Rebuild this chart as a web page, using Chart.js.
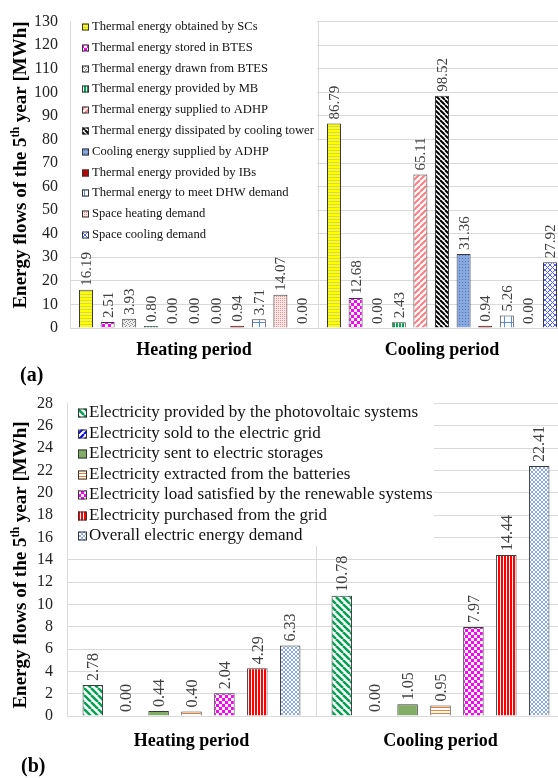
<!DOCTYPE html>
<html>
<head>
<meta charset="utf-8">
<script src="https://cdn.jsdelivr.net/npm/chart.js@4.4.1/dist/chart.umd.min.js"></script>
<style>
  html, body { margin: 0; padding: 0; background: #fff; overflow: hidden; }
  body { width: 558px; height: 778px; position: relative; }
  .wrap { position: absolute; left: 0; }
  .wrap canvas { display: block; }
  .tag { position: absolute; font: bold 20px "Liberation Serif", "Times New Roman", serif; color: #000; }
</style>
</head>
<body>
<div class="wrap" style="top:0"><canvas id="chartA" width="566" height="362"></canvas></div>
<div class="wrap" style="top:380px"><canvas id="chartB" width="566" height="380"></canvas></div>
<div class="tag" style="left:20px; top:363px">(a)</div>
<div class="tag" style="left:21px; top:754px">(b)</div>
<script>
// --- Data ---
const categories = ['Heating period', 'Cooling period'];
const yTitleParts = ['Energy flows of the 5', 'th', ' year [MWh]'];

const thermalNames = [
  'Thermal energy obtained by SCs',
  'Thermal energy stored in BTES',
  'Thermal energy drawn from BTES',
  'Thermal energy provided by MB',
  'Thermal energy supplied to ADHP',
  'Thermal energy dissipated by cooling tower',
  'Cooling energy supplied by ADHP',
  'Thermal energy provided by IBs',
  'Thermal energy to meet DHW demand',
  'Space heating demand',
  'Space cooling demand'
];
const thermalHeating = [16.19, 2.51, 3.93, 0.80, 0.00, 0.00, 0.00, 0.94, 3.71, 14.07, 0.00];
const thermalCooling = [86.79, 12.68, 0.00, 2.43, 65.11, 98.52, 31.36, 0.94, 5.26, 0.00, 27.92];
const thermalTicks = [0, 10, 20, 30, 40, 50, 60, 70, 80, 90, 100, 110, 120, 130];

const electricNames = [
  'Electricity provided by the photovoltaic systems',
  'Electricity sold to the electric grid',
  'Electricity sent to electric storages',
  'Electricity extracted from the batteries',
  'Electricity load satisfied by the renewable systems',
  'Electricity purchased from the grid',
  'Overall electric energy demand'
];
const electricHeating = [2.78, 0.00, 0.44, 0.40, 2.04, 4.29, 6.33];
const electricCooling = [10.78, 0.00, 1.05, 0.95, 7.97, 14.44, 22.41];
const electricTicks = [0, 2, 4, 6, 8, 10, 12, 14, 16, 18, 20, 22, 24, 26, 28];

// --- Patterns ---
const pctx = document.createElement('canvas').getContext('2d');
function tile(w, h, bg, paint) {
  const c = document.createElement('canvas');
  c.width = w; c.height = h;
  const g = c.getContext('2d');
  g.fillStyle = bg;
  g.fillRect(0, 0, w, h);
  if (paint) paint(g);
  return pctx.createPattern(c, 'repeat');
}
function diag(size, bg, color, lw, dir) {
  return tile(size, size, bg, g => {
    g.strokeStyle = color; g.lineWidth = lw;
    g.beginPath();
    for (let k = -1; k <= 1; k++) {
      if (dir > 0) { g.moveTo(k * size, size); g.lineTo(k * size + size, 0); }
      else { g.moveTo(k * size, 0); g.lineTo(k * size + size, size); }
    }
    g.stroke();
  });
}
function lattice(size, bg, color, lw) {
  return tile(size, size, bg, g => {
    g.strokeStyle = color; g.lineWidth = lw;
    g.beginPath();
    for (let k = -1; k <= 1; k++) {
      g.moveTo(k * size, size); g.lineTo(k * size + size, 0);
      g.moveTo(k * size, 0); g.lineTo(k * size + size, size);
    }
    g.stroke();
  });
}
function checks(size, bg, color) {
  return tile(size * 2, size * 2, bg, g => {
    g.fillStyle = color;
    g.fillRect(0, 0, size, size);
    g.fillRect(size, size, size, size);
  });
}
function hLines(h, bg, color) {
  return tile(4, h, bg, g => { g.fillStyle = color; g.fillRect(0, 0, 4, 1); });
}
function vLines(w, lw, bg, color) {
  return tile(w, 4, bg, g => { g.fillStyle = color; g.fillRect(0, 0, lw, 4); });
}

const thermalFills = [
  hLines(3, '#FFFF00', '#D6D65A'),
  checks(3, '#FFFFFF', '#FF00FF'),
  tile(4, 4, '#EDEDED', g => { g.fillStyle = '#8C8C8C'; g.fillRect(0, 0, 1, 1); g.fillRect(2, 1, 1, 1); g.fillRect(1, 2, 1, 1); g.fillRect(3, 3, 1, 1); }),
  vLines(3, 2, '#FFFFFF', '#00A050'),
  diag(6, '#FFFFFF', '#FF7C80', 2, 1),
  diag(5, '#FFFFFF', '#000000', 2, -1),
  tile(3, 3, '#88A8E0', g => { g.fillStyle = '#4F72B8'; g.fillRect(0, 0, 1, 1); }),
  '#C00000',
  tile(7, 7, '#FFFFFF', g => { g.fillStyle = '#5B8BD0'; g.fillRect(0, 0, 7, 1); g.fillRect(0, 0, 1, 7); }),
  tile(2, 2, '#FFE8E8', g => { g.fillStyle = '#F28C8C'; g.fillRect(0, 0, 1, 1); }),
  lattice(5, '#FFFFFF', '#5060FF', 1)
];
const electricFills = [
  diag(7, '#FFFFFF', '#00A050', 2.5, -1),
  diag(6, '#FFFFFF', '#0000FF', 2, 1),
  '#82AD66',
  hLines(3, '#FFFFFF', '#ED7D31'),
  checks(3, '#FFFFFF', '#FF00FF'),
  vLines(3, 2, '#FFFFFF', '#FF0000'),
  lattice(4, '#FFFFFF', '#8EA9DB', 1)
];

// --- Plugins ---
const boxLegend = {
  id: 'boxLegend',
  beforeDatasetsDraw(chart, args, o) {
    const ctx = chart.ctx;
    ctx.save();
    ctx.fillStyle = '#FFFFFF';
    ctx.fillRect(o.left, o.top, o.width, o.height);
    ctx.font = o.font;
    ctx.textBaseline = 'middle';
    ctx.textAlign = 'left';
    chart.data.datasets.forEach((ds, i) => {
      const y = Math.round(o.firstRow + i * o.rowGap);
      ctx.fillStyle = ds.backgroundColor;
      ctx.fillRect(o.iconX, y - o.icon / 2, o.icon, o.icon);
      ctx.strokeStyle = '#333';
      ctx.lineWidth = 1;
      ctx.strokeRect(o.iconX + 0.5, y - o.icon / 2 + 0.5, o.icon - 1, o.icon - 1);
      ctx.fillStyle = '#111';
      ctx.fillText(ds.label, o.textX, y);
    });
    ctx.restore();
  }
};

const valueLabels = {
  id: 'valueLabels',
  afterDatasetsDraw(chart, args, o) {
    const ctx = chart.ctx;
    ctx.save();
    ctx.font = o.font;
    ctx.fillStyle = o.color;
    ctx.textAlign = 'left';
    ctx.textBaseline = 'middle';
    chart.data.datasets.forEach((ds, i) => {
      chart.getDatasetMeta(i).data.forEach((bar, j) => {
        ctx.save();
        ctx.translate(bar.x + 1, bar.y - o.gap);
        ctx.rotate(-Math.PI / 2);
        ctx.fillText(ds.data[j].toFixed(2), 0, 0);
        ctx.restore();
      });
    });
    ctx.restore();
  }
};

const yTitle = {
  id: 'yTitle',
  afterDraw(chart, args, o) {
    const ctx = chart.ctx;
    ctx.save();
    const pieces = [
      { t: yTitleParts[0], f: o.font, r: 0 },
      { t: yTitleParts[1], f: o.supFont, r: o.supRise },
      { t: yTitleParts[2], f: o.font, r: 0 }
    ];
    let total = 0;
    pieces.forEach(p => { ctx.font = p.f; p.w = ctx.measureText(p.t).width; total += p.w; });
    ctx.translate(o.x, o.centerY);
    ctx.rotate(-Math.PI / 2);
    ctx.fillStyle = '#000';
    ctx.textBaseline = 'alphabetic';
    ctx.textAlign = 'left';
    let x = -total / 2;
    pieces.forEach(p => {
      ctx.font = p.f;
      ctx.fillText(p.t, x, -p.r);
      x += p.w;
    });
    ctx.restore();
  }
};

// --- Chart builder ---
function buildChart(canvas, names, heating, cooling, fills, ticks, cfg) {
  const datasets = names.map((name, i) => ({
    label: name,
    data: [heating[i], cooling[i]],
    backgroundColor: fills[i],
    borderColor: '#3A3A3A',
    borderWidth: 1,
    categoryPercentage: cfg.catPct,
    barPercentage: cfg.barPct
  }));
  return new Chart(canvas, {
    type: 'bar',
    data: { labels: categories, datasets },
    options: {
      responsive: false,
      animation: false,
      layout: { padding: cfg.padding },
      scales: {
        x: {
          grid: { color: '#D9D9D9', offset: true, drawTicks: false },
          border: { color: '#D9D9D9' },
          ticks: { color: '#000', padding: cfg.xPad, font: { family: '"Liberation Serif", serif', size: 18, weight: 'bold' } },
          afterFit: s => { s.height = cfg.xHeight; }
        },
        y: {
          min: 0,
          max: ticks[ticks.length - 1],
          grid: { color: '#D9D9D9', drawTicks: false },
          border: { display: false },
          ticks: { color: '#222', padding: cfg.yPad, font: { family: '"Liberation Serif", serif', size: 16 } },
          afterBuildTicks: s => { s.ticks = ticks.map(v => ({ value: v })); },
          afterFit: s => { s.width = cfg.yWidth; }
        }
      },
      plugins: {
        legend: { display: false },
        tooltip: { enabled: false },
        boxLegend: cfg.legend,
        valueLabels: cfg.labels,
        yTitle: cfg.title
      }
    },
    plugins: [boxLegend, valueLabels, yTitle]
  });
}

buildChart(document.getElementById('chartA'), thermalNames, thermalHeating, thermalCooling, thermalFills, thermalTicks, {
  catPct: 0.958, barPct: 0.648,
  padding: { top: 15, right: 0, bottom: 0, left: 0 },
  xHeight: 34, xPad: 12, yWidth: 70, yPad: 12,
  legend: { left: 71, top: 16, width: 246, height: 230, firstRow: 27, rowGap: 20.8, iconX: 82, icon: 7, textX: 92,
            font: '12.6px "Liberation Serif", serif' },
  labels: { font: '15px "Liberation Serif", serif', color: '#404040', gap: 4 },
  title: { x: 26, centerY: 165, font: 'bold 19px "Liberation Serif", serif', supFont: 'bold 12px "Liberation Serif", serif', supRise: 7 }
});

buildChart(document.getElementById('chartB'), electricNames, electricHeating, electricCooling, electricFills, electricTicks, {
  catPct: 0.925, barPct: 0.623,
  padding: { top: 17, right: 1, bottom: 0, left: 0 },
  xHeight: 44, xPad: 15, yWidth: 67, yPad: 14,
  legend: { left: 68, top: 18, width: 366, height: 148, firstRow: 33, rowGap: 20.5, iconX: 78, icon: 9, textX: 89,
            font: '17px "Liberation Serif", serif' },
  labels: { font: '16px "Liberation Serif", serif', color: '#404040', gap: 4 },
  title: { x: 26, centerY: 185, font: 'bold 19px "Liberation Serif", serif', supFont: 'bold 12px "Liberation Serif", serif', supRise: 7 }
});
</script>
</body>
</html>
